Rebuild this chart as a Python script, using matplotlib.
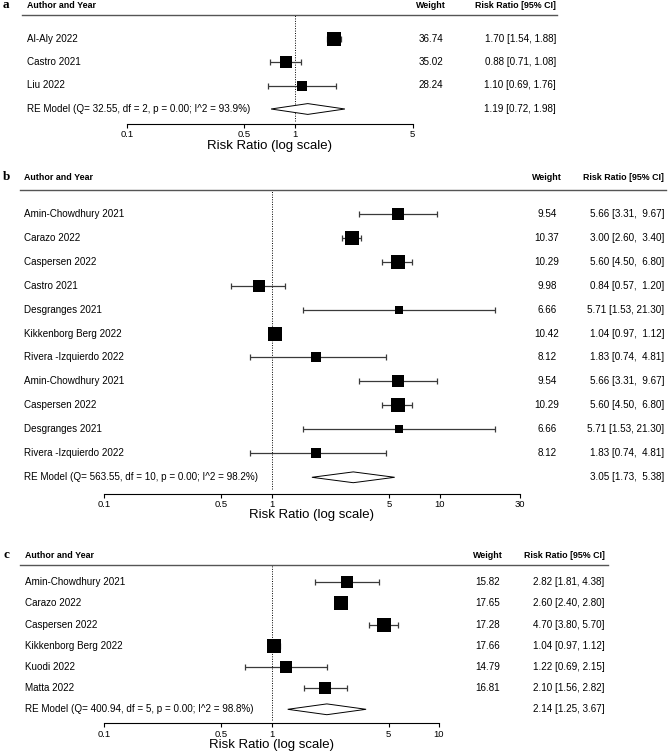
import matplotlib
matplotlib.use("Agg")
import matplotlib.pyplot as plt
from matplotlib.patches import Polygon
from matplotlib.ticker import NullLocator
from matplotlib.transforms import blended_transform_factory

plt.rcParams["font.family"] = ["Liberation Sans", "DejaVu Sans"]

W, H = 669, 756

# ---- panel a data ----
a_studies = ["Al-Aly 2022", "Castro 2021", "Liu 2022"]
a_weights = [36.74, 35.02, 28.24]
a_rr = [1.70, 0.88, 1.10]
a_lo = [1.54, 0.71, 0.69]
a_hi = [1.88, 1.08, 1.76]
a_re = [1.19, 0.72, 1.98]          # estimate, lower, upper
a_het = [32.55, 2, 0.00, 93.9]     # Q, df, p, I^2
a_ticks = [0.1, 0.5, 1, 5]

# ---- panel b data ----
b_studies = ["Amin-Chowdhury 2021", "Carazo 2022", "Caspersen 2022", "Castro 2021",
             "Desgranges 2021", "Kikkenborg Berg 2022", "Rivera -Izquierdo 2022",
             "Amin-Chowdhury 2021", "Caspersen 2022", "Desgranges 2021",
             "Rivera -Izquierdo 2022"]
b_weights = [9.54, 10.37, 10.29, 9.98, 6.66, 10.42, 8.12, 9.54, 10.29, 6.66, 8.12]
b_rr = [5.66, 3.00, 5.60, 0.84, 5.71, 1.04, 1.83, 5.66, 5.60, 5.71, 1.83]
b_lo = [3.31, 2.60, 4.50, 0.57, 1.53, 0.97, 0.74, 3.31, 4.50, 1.53, 0.74]
b_hi = [9.67, 3.40, 6.80, 1.20, 21.30, 1.12, 4.81, 9.67, 6.80, 21.30, 4.81]
b_re = [3.05, 1.73, 5.38]
b_het = [563.55, 10, 0.00, 98.2]
b_ticks = [0.1, 0.5, 1, 5, 10, 30]

# ---- panel c data ----
c_studies = ["Amin-Chowdhury 2021", "Carazo 2022", "Caspersen 2022",
             "Kikkenborg Berg 2022", "Kuodi 2022", "Matta 2022"]
c_weights = [15.82, 17.65, 17.28, 17.66, 14.79, 16.81]
c_rr = [2.82, 2.60, 4.70, 1.04, 1.22, 2.10]
c_lo = [1.81, 2.40, 3.80, 0.97, 0.69, 1.56]
c_hi = [4.38, 2.80, 5.70, 1.12, 2.15, 2.82]
c_re = [2.14, 1.25, 3.67]
c_het = [400.94, 5, 0.00, 98.8]
c_ticks = [0.1, 0.5, 1, 5, 10]

fig = plt.figure(figsize=(W / 100, H / 100), dpi=100)


def draw_panel(letter, studies, weights, rr, lo, hi, re, het, ticks, lay):
    n = len(studies)
    left, right, top, bottom = lay["axes"]
    ax = fig.add_axes([left / W, 1 - bottom / H, (right - left) / W, (bottom - top) / H])
    first_px, re_px = lay["rows"]
    s = (re_px - first_px) / n
    ax.set_xscale("log")
    ax.set_xlim(ticks[0], ticks[-1])
    ax.set_ylim(-(bottom - re_px) / s, (re_px - top) / s)

    ys = [n - i for i in range(n)]

    # CIs and weighted squares
    ax.errorbar(rr, ys, xerr=[[r - l for r, l in zip(rr, lo)], [h - r for r, h in zip(rr, hi)]],
                fmt="none", ecolor="#3a3a3a", elinewidth=0.9, capsize=2.2, capthick=0.9, zorder=2)
    wmax = max(weights)
    for x, y, w in zip(rr, ys, weights):
        ax.plot(x, y, marker="s", color="black", ms=13.3 * 0.72 * w / wmax, mew=0, zorder=3)

    # summary diamond
    hh = 5.4 / s
    ax.add_patch(Polygon([(re[1], 0), (re[0], hh), (re[2], 0), (re[0], -hh)],
                         closed=True, facecolor="white", edgecolor="black", lw=0.7, zorder=3))

    # reference line at 1
    ax.plot([1, 1], [-0.5, (re_px - top) / s], ls=(0, (1, 1.5)), color="black", lw=0.7, zorder=1)

    # axis styling
    for sp in ["top", "left", "right"]:
        ax.spines[sp].set_visible(False)
    ax.spines["bottom"].set_linewidth(0.8)
    ax.set_yticks([])
    ax.set_xticks(ticks)
    ax.set_xticklabels([f"{t:g}" for t in ticks])
    ax.xaxis.set_minor_locator(NullLocator())
    ax.tick_params(axis="x", length=3, width=0.8, pad=1.5, labelsize=6.8)
    ax.set_xlabel("Risk Ratio (log scale)", fontsize=9.5, labelpad=0.5)
    ax.patch.set_visible(False)

    # text columns
    tr = blended_transform_factory(fig.transFigure, ax.transData)
    width = max(len(f"{v:.2f}") for v in list(hi) + [re[2]])
    fs = 7.1
    for y, name, w, r, l, h in zip(ys, studies, weights, rr, lo, hi):
        ax.text(lay["label_x"] / W, y, name, transform=tr, ha="left", va="center", fontsize=fs)
        ax.text(lay["weight_x"] / W, y, f"{w:.2f}", transform=tr, ha="center", va="center", fontsize=fs)
        ax.text(lay["rr_x"] / W, y, f"{r:.2f} [{l:.2f}, {h:>{width}.2f}]", transform=tr,
                ha="right", va="center", fontsize=fs)
    q, df, p, i2 = het
    ax.text(lay["label_x"] / W, 0, f"RE Model (Q= {q:.2f}, df = {df}, p = {p:.2f}; I^2 = {i2:.1f}%)",
            transform=tr, ha="left", va="center", fontsize=fs)
    ax.text(lay["rr_x"] / W, 0, f"{re[0]:.2f} [{re[1]:.2f}, {re[2]:>{width}.2f}]", transform=tr,
            ha="right", va="center", fontsize=fs)

    # header
    hy = 1 - lay["header"] / H
    fig.text(lay["label_x"] / W, hy, "Author and Year", fontsize=6.4, fontweight="bold", ha="left", va="center")
    fig.text(lay["weight_x"] / W, hy, "Weight", fontsize=6.4, fontweight="bold", ha="center", va="center")
    fig.text(lay["rr_x"] / W, hy, "Risk Ratio [95% CI]", fontsize=6.4, fontweight="bold", ha="right", va="center")
    fig.text(3 / W, hy, letter, fontsize=9.5, fontweight="bold", family="Liberation Serif", ha="left", va="center")
    ly = 1 - top / H
    fig.add_artist(plt.Line2D([lay["line"][0] / W, lay["line"][1] / W], [ly, ly],
                              color="#555555", lw=1.0, transform=fig.transFigure))


draw_panel("a", a_studies, a_weights, a_rr, a_lo, a_hi, a_re, a_het, a_ticks,
           dict(axes=(127, 412.5, 15, 124), rows=(38.5, 109), header=5.5,
                line=(22, 557), label_x=27, weight_x=431, rr_x=556))
draw_panel("b", b_studies, b_weights, b_rr, b_lo, b_hi, b_re, b_het, b_ticks,
           dict(axes=(104, 520, 190, 493.5), rows=(213.7, 477.3), header=177.3,
                line=(20, 666), label_x=24, weight_x=547, rr_x=664))
draw_panel("c", c_studies, c_weights, c_rr, c_lo, c_hi, c_re, c_het, c_ticks,
           dict(axes=(104, 439, 565, 723.3), rows=(582.3, 709.3), header=555,
                line=(20, 608), label_x=25, weight_x=488, rr_x=604.5))

fig.savefig("out.png", dpi=100, facecolor="white")
